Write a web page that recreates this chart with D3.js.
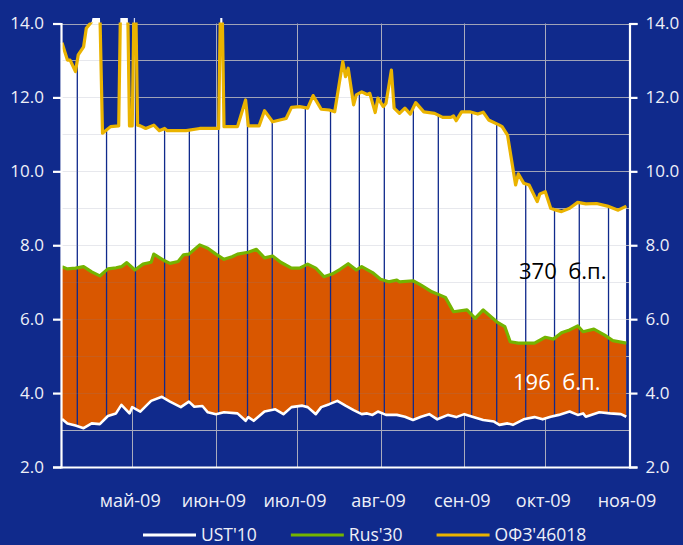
<!DOCTYPE html>
<html>
<head>
<meta charset="utf-8">
<script src="https://cdn.jsdelivr.net/npm/d3@7"></script>
<style>
    body { margin: 0; background: #102a8c; }
    svg { display: block; }
    text { font-family: "Open Sans", "Noto Sans", sans-serif; }
</style>
</head>
<body>
<script>
// UST'10
var ustDates = ["2009-04-05","2009-04-07","2009-04-10","2009-04-13","2009-04-16","2009-04-19","2009-04-22","2009-04-25","2009-04-27","2009-04-30",
    "2009-05-01","2009-05-04","2009-05-08","2009-05-12","2009-05-15","2009-05-19","2009-05-22","2009-05-24","2009-05-27","2009-05-29",
    "2009-06-01","2009-06-04","2009-06-09","2009-06-12","2009-06-13","2009-06-15","2009-06-19","2009-06-23","2009-06-26","2009-06-29",
    "2009-07-03","2009-07-05","2009-07-08","2009-07-10","2009-07-13","2009-07-16","2009-07-19","2009-07-22","2009-07-25","2009-07-27","2009-07-29","2009-07-31",
    "2009-08-03","2009-08-07","2009-08-10","2009-08-13","2009-08-16","2009-08-19","2009-08-22","2009-08-26","2009-08-29",
    "2009-09-01","2009-09-04","2009-09-08","2009-09-12","2009-09-14","2009-09-17","2009-09-19","2009-09-23","2009-09-27","2009-09-30",
    "2009-10-03","2009-10-06","2009-10-10","2009-10-13","2009-10-15","2009-10-16","2009-10-21","2009-10-25","2009-10-29","2009-10-31"];
var ustValues = [3.30,3.18,3.12,3.05,3.18,3.16,3.38,3.45,3.68,3.45,
    3.62,3.50,3.79,3.90,3.77,3.62,3.77,3.63,3.65,3.48,
    3.43,3.48,3.45,3.25,3.35,3.25,3.50,3.56,3.43,3.62,
    3.66,3.62,3.43,3.62,3.70,3.79,3.66,3.54,3.43,3.45,3.41,3.50,
    3.41,3.41,3.36,3.27,3.36,3.43,3.29,3.41,3.35,
    3.43,3.36,3.27,3.23,3.14,3.18,3.14,3.29,3.35,3.29,
    3.36,3.41,3.50,3.41,3.45,3.36,3.48,3.45,3.43,3.36];

// Rus'30
var rusDates = ["2009-04-05","2009-04-07","2009-04-10","2009-04-13","2009-04-16","2009-04-19","2009-04-22","2009-04-25","2009-04-27","2009-04-29",
    "2009-05-02","2009-05-05","2009-05-08","2009-05-09","2009-05-13","2009-05-15","2009-05-18","2009-05-20","2009-05-22","2009-05-26","2009-05-29",
    "2009-06-01","2009-06-04","2009-06-07","2009-06-09","2009-06-13","2009-06-16","2009-06-19","2009-06-22","2009-06-25","2009-06-29",
    "2009-07-02","2009-07-05","2009-07-08","2009-07-11","2009-07-14","2009-07-17","2009-07-20","2009-07-23","2009-07-25","2009-07-29",
    "2009-08-01","2009-08-04","2009-08-07","2009-08-08","2009-08-13","2009-08-16","2009-08-20","2009-08-25","2009-08-28",
    "2009-09-02","2009-09-05","2009-09-08","2009-09-13","2009-09-16","2009-09-18","2009-09-21","2009-09-27",
    "2009-10-01","2009-10-04","2009-10-07","2009-10-10","2009-10-13","2009-10-15","2009-10-19","2009-10-23","2009-10-26","2009-10-31"];
var rusValues = [7.42,7.36,7.38,7.42,7.28,7.17,7.36,7.39,7.42,7.53,
    7.33,7.49,7.54,7.76,7.58,7.51,7.56,7.74,7.76,8.01,7.92,
    7.76,7.62,7.69,7.76,7.81,7.89,7.66,7.71,7.54,7.38,
    7.38,7.49,7.38,7.15,7.22,7.35,7.50,7.33,7.42,7.26,
    7.08,7.01,7.06,7.01,7.04,6.92,6.74,6.59,6.20,
    6.25,6.02,6.25,5.93,5.80,5.39,5.35,5.35,
    5.51,5.46,5.63,5.71,5.82,5.66,5.73,5.57,5.42,5.35];

// ОФЗ'46018
var ofzDates = ["2009-04-05","2009-04-07","2009-04-08","2009-04-10","2009-04-11","2009-04-13","2009-04-14","2009-04-16","2009-04-17","2009-04-18",
    "2009-04-19","2009-04-20","2009-04-23","2009-04-26","2009-04-27","2009-04-28","2009-04-29","2009-04-30",
    "2009-05-01","2009-05-02","2009-05-03","2009-05-04","2009-05-06","2009-05-09","2009-05-11","2009-05-13","2009-05-14","2009-05-21","2009-05-26","2009-05-31",
    "2009-06-02","2009-06-03","2009-06-04","2009-06-09","2009-06-12","2009-06-13","2009-06-17","2009-06-19","2009-06-22","2009-06-27","2009-06-29",
    "2009-07-02","2009-07-05","2009-07-07","2009-07-10","2009-07-13","2009-07-15","2009-07-18","2009-07-19","2009-07-20","2009-07-22","2009-07-23",
    "2009-07-25","2009-07-27","2009-07-28","2009-07-30","2009-07-31",
    "2009-08-02","2009-08-03","2009-08-05","2009-08-06","2009-08-08","2009-08-10","2009-08-12","2009-08-14","2009-08-17","2009-08-21",
    "2009-08-24","2009-08-27","2009-08-28","2009-08-29","2009-08-31",
    "2009-09-03","2009-09-06","2009-09-08","2009-09-10","2009-09-14","2009-09-15","2009-09-17","2009-09-20","2009-09-21","2009-09-23",
    "2009-09-25","2009-09-28","2009-09-29",
    "2009-10-01","2009-10-03","2009-10-05","2009-10-07","2009-10-10","2009-10-13","2009-10-16","2009-10-20","2009-10-24","2009-10-28","2009-10-31"];
var ofzValues = [13.48,13.01,13.01,12.70,13.15,13.37,13.87,14.05,14.40,14.50,
    14.40,11.03,11.21,11.23,16.00,16.00,16.00,11.23,
    11.23,16.00,11.25,11.23,11.16,11.25,11.10,11.16,11.10,11.10,11.16,11.16,
    11.16,16.00,11.21,11.21,11.93,11.23,11.23,11.64,11.34,11.43,11.73,
    11.75,11.71,12.05,11.68,11.66,11.61,12.97,12.56,12.79,11.80,12.07,
    12.15,12.08,12.11,11.59,11.98,
    11.75,11.84,12.74,11.71,11.57,11.71,11.55,11.86,11.61,11.57,
    11.46,11.46,11.50,11.37,11.61,
    11.61,11.55,11.60,11.39,11.25,11.21,10.98,9.63,9.93,9.68,
    9.63,9.18,9.39,
    9.45,9.00,8.95,8.91,9.00,9.16,9.12,9.13,9.06,8.95,9.06];

// thin dark separators across the filled bands
var separatorDates = ["2009-04-10 16","2009-04-21 12","2009-05-02 05","2009-05-13 00","2009-05-22 04","2009-06-02 00","2009-06-12 17",
    "2009-06-21 21","2009-07-04 03","2009-07-13 11","2009-07-24 03","2009-08-02 09","2009-08-13 03","2009-08-22 09",
    "2009-09-03 18","2009-09-13 00","2009-09-23 18","2009-10-04 10","2009-10-13 14","2009-10-24 10"];

var monthDates = ["2009-05-01","2009-06-01","2009-07-01","2009-08-01","2009-09-01","2009-10-01","2009-11-01"];
var monthLabels = ["май-09","июн-09","июл-09","авг-09","сен-09","окт-09","ноя-09"];
var yTicks = [2, 4, 6, 8, 10, 12, 14];
var yGrid = [3, 4, 5, 6, 7, 8, 9, 10, 11, 12, 13, 14];

var seriesNames = ["UST'10", "Rus'30", "ОФЗ'46018"];
var seriesColors = ["#ffffff", "#74b400", "#eab300"];

var bgColor = "#102a8c";
var bandColors = ["#ffffff", "#d95700"];

var width = 683, height = 545;
var margin = { left: 62, right: 54, top: 23.5, bottom: 78 };

var parseDay = d3.timeParse("%Y-%m-%d");
var parseHour = d3.timeParse("%Y-%m-%d %H");

function zip(dates, values) {
    return dates.map(function(d, i) { return { date: parseDay(d), value: values[i] }; });
}
var ust = zip(ustDates, ustValues);
var rus = zip(rusDates, rusValues);
var ofz = zip(ofzDates, ofzValues);

var x = d3.scaleTime()
    .domain([new Date(2009, 3, 5), new Date(2009, 10, 1)])
    .range([margin.left, width - margin.right]);
var y = d3.scaleLinear()
    .domain([2, 14])
    .range([height - margin.bottom, margin.top]);

var x0 = x.range()[0], x1 = x.range()[1];
var yBottom = y(2), yTop = y(14);

var svg = d3.select("body").append("svg")
    .attr("width", width)
    .attr("height", height);

svg.append("rect").attr("width", width).attr("height", height).attr("fill", bgColor);

var defs = svg.append("defs");
// region above the UST line, where the bands live
defs.append("clipPath").attr("id", "aboveUst")
    .append("path")
    .attr("d", d3.area()
        .x(function(d) { return x(d.date); })
        .y0(yTop - 6)
        .y1(function(d) { return y(d.value); })(ust));
// region under the ОФЗ line
defs.append("clipPath").attr("id", "belowOfz")
    .append("path")
    .attr("d", d3.area()
        .x(function(d) { return x(d.date); })
        .y0(yBottom)
        .y1(function(d) { return y(d.value); })(ofz));
defs.append("clipPath").attr("id", "plotTop")
    .append("rect")
    .attr("x", x0).attr("y", yTop - 5.5)
    .attr("width", x1 - x0).attr("height", yBottom - yTop + 5.5);
defs.append("clipPath").attr("id", "lineClip")
    .append("rect")
    .attr("x", x0 - 2).attr("y", yTop - 1)
    .attr("width", x1 - x0 + 4).attr("height", yBottom - yTop + 1);

// gridlines under the bands
var grid = svg.append("g").attr("stroke", "#a9abbd").attr("stroke-width", 1);
grid.selectAll(".hg").data(yGrid).enter().append("line")
    .attr("x1", x0).attr("x2", x1)
    .attr("y1", function(d) { return Math.round(y(d)) + 0.5; })
    .attr("y2", function(d) { return Math.round(y(d)) + 0.5; });
grid.selectAll(".vg").data(monthDates.slice(0, 6)).enter().append("line")
    .attr("y1", yTop).attr("y2", yBottom)
    .attr("x1", function(d) { return Math.round(x(parseDay(d))) + 0.5; })
    .attr("x2", function(d) { return Math.round(x(parseDay(d))) + 0.5; });

var bands = svg.append("g").attr("clip-path", "url(#plotTop)")
    .append("g").attr("clip-path", "url(#aboveUst)");

function bandArea(data) {
    return d3.area()
        .x(function(d) { return x(d.date); })
        .y0(yBottom)
        .y1(function(d) { return y(d.value); })(data);
}
bands.append("path").attr("d", bandArea(ofz)).attr("fill", bandColors[0]);
bands.append("path").attr("d", bandArea(rus)).attr("fill", bandColors[1]);

bands.append("g").attr("clip-path", "url(#belowOfz)")
    .selectAll(".sep").data(separatorDates).enter().append("line")
    .attr("x1", function(d) { return x(parseHour(d)); })
    .attr("x2", function(d) { return x(parseHour(d)); })
    .attr("y1", yTop - 6).attr("y2", yBottom)
    .attr("stroke", bgColor).attr("stroke-width", 1.3);

// faint gridlines showing through the bands
bands.selectAll(".fg").data(yGrid).enter().append("line")
    .attr("x1", x0).attr("x2", x1)
    .attr("y1", function(d) { return Math.round(y(d)) + 0.5; })
    .attr("y2", function(d) { return Math.round(y(d)) + 0.5; })
    .attr("stroke", "#7a7f9a").attr("stroke-opacity", 0.18);

var line = d3.line()
    .x(function(d) { return x(d.date); })
    .y(function(d) { return y(d.value); });

var lines = svg.append("g").attr("clip-path", "url(#lineClip)");
[ust, rus, ofz].forEach(function(data, i) {
    lines.append("path")
        .attr("d", line(data))
        .attr("fill", "none")
        .attr("stroke", seriesColors[i])
        .attr("stroke-width", i === 0 ? 2.6 : 3.2)
        .attr("stroke-linejoin", "round");
});

// axes
var labelColor = "#eef0f8";

var leftAxis = svg.append("g")
    .attr("transform", "translate(" + (x0 - 1) + ",0)")
    .call(d3.axisLeft(y).tickValues(yTicks).tickFormat(d3.format(".1f")).tickSize(8).tickPadding(9));
var rightAxis = svg.append("g")
    .attr("transform", "translate(" + (x1 + 0.5) + ",0)")
    .call(d3.axisRight(y).tickValues(yTicks).tickFormat(d3.format(".1f")).tickSize(8).tickPadding(8));
var bottomAxis = svg.append("g")
    .attr("transform", "translate(0," + (yBottom + 0.5) + ")")
    .call(d3.axisBottom(x)
        .tickValues(monthDates.map(parseDay))
        .tickFormat(function(d, i) { return monthLabels[i]; })
        .tickSize(0).tickPadding(27));

[leftAxis, rightAxis, bottomAxis].forEach(function(a) {
    a.select(".domain").attr("stroke", "#ffffff").attr("stroke-width", 2.2);
    a.selectAll(".tick line").attr("stroke", "#ffffff").attr("stroke-width", 2.2);
    a.selectAll("text")
        .attr("fill", labelColor)
        .style("font-size", "17px");
});
bottomAxis.select(".domain").attr("d", "M" + (x0 - 2) + ",0H" + (x1 + 1.5));
bottomAxis.selectAll("text").style("font-size", "18px").attr("dx", -2.5);

// spread annotations
svg.append("text")
    .attr("x", 519).attr("y", 279)
    .attr("fill", "#000000")
    .style("font-size", "22px")
    .attr("xml:space", "preserve")
    .text("370  б.п.");
svg.append("text")
    .attr("x", 513).attr("y", 390)
    .attr("fill", "#ffffff")
    .style("font-size", "22px")
    .attr("xml:space", "preserve")
    .text("196  б.п.");

// legend
var legend = svg.append("g").attr("transform", "translate(0,535)");
var lx = 143;
seriesNames.forEach(function(name, i) {
    legend.append("line")
        .attr("x1", lx).attr("x2", lx + 53)
        .attr("stroke", seriesColors[i])
        .attr("stroke-width", 3);
    var t = legend.append("text")
        .attr("x", lx + 58).attr("y", 5.5)
        .attr("fill", labelColor)
        .style("font-size", "17.5px")
        .text(name);
    lx += 58 + t.node().getComputedTextLength() + 34;
});
</script>
</body>
</html>
